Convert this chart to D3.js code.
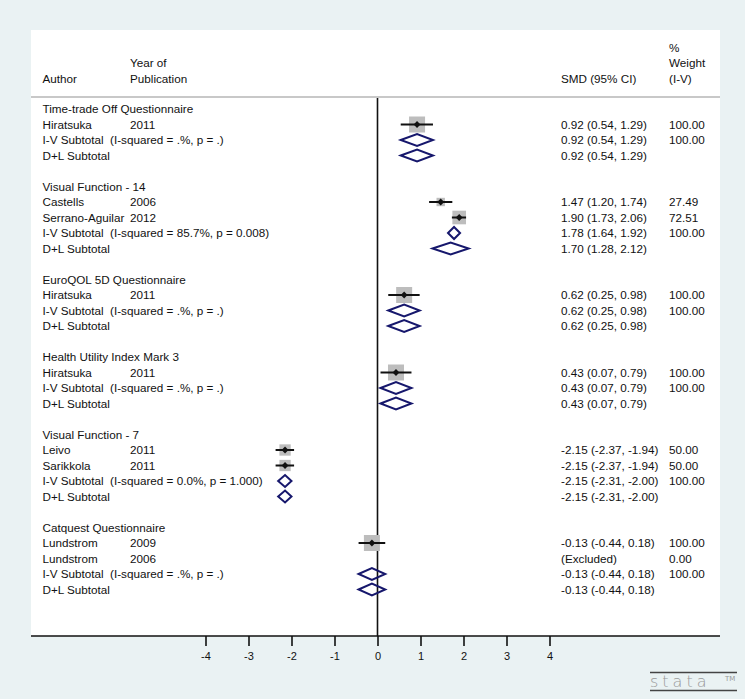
<!DOCTYPE html>
<html>
<head>
<meta charset="utf-8">
<script src="https://cdn.jsdelivr.net/npm/d3@7"></script>
<style>
  body { margin: 0; background: #eaf2f3; }
  svg text { font-family: "Liberation Sans", Arial, sans-serif; fill: #111; }
</style>
</head>
<body>
<div class="svg-wrap"></div>
<script>
const width = 745;
const height = 699;

// rows of the forest plot, top to bottom
const labels = [
  "Time-trade Off Questionnaire", "Hiratsuka", "I-V Subtotal  (I-squared = .%, p = .)", "D+L Subtotal", "",
  "Visual Function - 14", "Castells", "Serrano-Aguilar", "I-V Subtotal  (I-squared = 85.7%, p = 0.008)", "D+L Subtotal", "",
  "EuroQOL 5D Questionnaire", "Hiratsuka", "I-V Subtotal  (I-squared = .%, p = .)", "D+L Subtotal", "",
  "Health Utility Index Mark 3", "Hiratsuka", "I-V Subtotal  (I-squared = .%, p = .)", "D+L Subtotal", "",
  "Visual Function - 7", "Leivo", "Sarikkola", "I-V Subtotal  (I-squared = 0.0%, p = 1.000)", "D+L Subtotal", "",
  "Catquest Questionnaire", "Lundstrom", "Lundstrom", "I-V Subtotal  (I-squared = .%, p = .)", "D+L Subtotal"
];
const years = [
  "", "2011", "", "", "",
  "", "2006", "2012", "", "", "",
  "", "2011", "", "", "",
  "", "2011", "", "", "",
  "", "2011", "2011", "", "", "",
  "", "2009", "2006", "", ""
];
const kinds = [
  "h", "s", "d", "d", "b",
  "h", "s", "s", "d", "d", "b",
  "h", "s", "d", "d", "b",
  "h", "s", "d", "d", "b",
  "h", "s", "s", "d", "d", "b",
  "h", "s", "x", "d", "d"
];
const smd = [
  null, 0.92, 0.92, 0.92, null,
  null, 1.47, 1.90, 1.78, 1.70, null,
  null, 0.62, 0.62, 0.62, null,
  null, 0.43, 0.43, 0.43, null,
  null, -2.15, -2.15, -2.15, -2.15, null,
  null, -0.13, null, -0.13, -0.13
];
const ciLow = [
  null, 0.54, 0.54, 0.54, null,
  null, 1.20, 1.73, 1.64, 1.28, null,
  null, 0.25, 0.25, 0.25, null,
  null, 0.07, 0.07, 0.07, null,
  null, -2.37, -2.37, -2.31, -2.31, null,
  null, -0.44, null, -0.44, -0.44
];
const ciHigh = [
  null, 1.29, 1.29, 1.29, null,
  null, 1.74, 2.06, 1.92, 2.12, null,
  null, 0.98, 0.98, 0.98, null,
  null, 0.79, 0.79, 0.79, null,
  null, -1.94, -1.94, -2.00, -2.00, null,
  null, 0.18, null, 0.18, 0.18
];
const weights = [
  "", "100.00", "100.00", "", "",
  "", "27.49", "72.51", "100.00", "", "",
  "", "100.00", "100.00", "", "",
  "", "100.00", "100.00", "", "",
  "", "50.00", "50.00", "100.00", "", "",
  "", "100.00", "0.00", "100.00", ""
];
const xTicks = [-4, -3, -2, -1, 0, 1, 2, 3, 4];

const fmt = v => v.toFixed(2);
const rows = labels.map((label, i) => ({
  i, label, year: years[i], kind: kinds[i],
  est: smd[i], lo: ciLow[i], hi: ciHigh[i], weight: weights[i]
}));

let svg = d3.select(".svg-wrap")
  .append("svg")
  .attr("width", width)
  .attr("height", height)
  .style("display", "block")
  .style("background-color", "#eaf2f3");

// plot panel
const panel = { left: 31, right: 720, top: 30, bottom: 636 };
svg.append("rect")
  .attr("x", panel.left).attr("y", panel.top)
  .attr("width", panel.right - panel.left)
  .attr("height", panel.bottom - panel.top)
  .attr("fill", "white");

const scaleX = d3.scaleLinear().domain([-4, 4]).range([205.5, 549.5]);
const scaleY = d3.scaleLinear().domain([0, rows.length - 1]).range([109, 589.5]);

const fs = "11.7px";
const col = { author: 42.5, year: 130, smd: 561, weight: 669 };

// header
const header = [
  { x: col.author, y: 79, t: "Author" },
  { x: col.year, y: 63, t: "Year of" },
  { x: col.year, y: 79, t: "Publication" },
  { x: col.smd, y: 79, t: "SMD (95% CI)" },
  { x: col.weight, y: 47.5, t: "%" },
  { x: col.weight, y: 63, t: "Weight" },
  { x: col.weight, y: 79, t: "(I-V)" }
];
svg.append("g").selectAll("text")
  .data(header)
  .enter().append("text")
  .attr("x", d => d.x).attr("y", d => d.y)
  .attr("dy", "0.35em")
  .style("font-size", fs)
  .text(d => d.t);

svg.append("line")
  .attr("x1", panel.left).attr("x2", panel.right)
  .attr("y1", 97).attr("y2", 97)
  .attr("stroke", "#c8c8c8").attr("stroke-width", 2);

// zero line
svg.append("line")
  .attr("x1", scaleX(0)).attr("x2", scaleX(0))
  .attr("y1", 98).attr("y2", panel.bottom)
  .attr("stroke", "#111").attr("stroke-width", 1.6);

// row text
let textG = svg.append("g").style("font-size", fs);
textG.selectAll(".lab")
  .data(rows)
  .enter().append("text")
  .attr("x", col.author)
  .attr("y", d => scaleY(d.i))
  .attr("dy", "0.35em")
  .attr("xml:space", "preserve")
  .style("white-space", "pre")
  .text(d => d.label);

textG.selectAll(".yr")
  .data(rows.filter(d => d.year))
  .enter().append("text")
  .attr("x", col.year)
  .attr("y", d => scaleY(d.i))
  .attr("dy", "0.35em")
  .text(d => d.year);

textG.selectAll(".smd")
  .data(rows.filter(d => d.kind == "s" || d.kind == "d" || d.kind == "x"))
  .enter().append("text")
  .attr("x", col.smd)
  .attr("y", d => scaleY(d.i))
  .attr("dy", "0.35em")
  .text(d => d.kind == "x" ? "(Excluded)" : fmt(d.est) + " (" + fmt(d.lo) + ", " + fmt(d.hi) + ")");

textG.selectAll(".wt")
  .data(rows.filter(d => d.weight))
  .enter().append("text")
  .attr("x", col.weight)
  .attr("y", d => scaleY(d.i))
  .attr("dy", "0.35em")
  .text(d => d.weight);

// study markers
const studies = rows.filter(d => d.kind == "s");
svg.append("g").selectAll("rect")
  .data(studies)
  .enter().append("rect")
  .attr("x", d => scaleX(d.est) - 8 * Math.sqrt(+d.weight / 100))
  .attr("y", d => scaleY(d.i) - 8 * Math.sqrt(+d.weight / 100))
  .attr("width", d => 16 * Math.sqrt(+d.weight / 100))
  .attr("height", d => 16 * Math.sqrt(+d.weight / 100))
  .attr("fill", "#bdbdbd");

svg.append("g").selectAll("line")
  .data(studies)
  .enter().append("line")
  .attr("x1", d => scaleX(d.lo)).attr("x2", d => scaleX(d.hi))
  .attr("y1", d => scaleY(d.i)).attr("y2", d => scaleY(d.i))
  .attr("stroke", "#111").attr("stroke-width", 2);

svg.append("g").selectAll("path")
  .data(studies)
  .enter().append("path")
  .attr("d", d => {
    let x = scaleX(d.est), y = scaleY(d.i), r = 3.4;
    return `M${x - r},${y}L${x},${y - r}L${x + r},${y}L${x},${y + r}Z`;
  })
  .attr("fill", "#111");

// pooled diamonds
svg.append("g").selectAll("path")
  .data(rows.filter(d => d.kind == "d"))
  .enter().append("path")
  .attr("d", d => {
    let y = scaleY(d.i), h = 6;
    return `M${scaleX(d.lo)},${y}L${scaleX(d.est)},${y - h}L${scaleX(d.hi)},${y}L${scaleX(d.est)},${y + h}Z`;
  })
  .attr("fill", "none")
  .attr("stroke", "#16176c")
  .attr("stroke-width", 2);

// x axis
svg.append("line")
  .attr("x1", panel.left).attr("x2", panel.right)
  .attr("y1", panel.bottom).attr("y2", panel.bottom)
  .attr("stroke", "#111").attr("stroke-width", 1.6);

let xAxis = d3.axisBottom(scaleX)
  .tickValues(xTicks)
  .tickSize(10)
  .tickPadding(6)
  .tickFormat(d => d < 0 ? "-" + Math.abs(d) : String(d));
let axisG = svg.append("g")
  .attr("id", "x-axis")
  .attr("transform", "translate(0," + panel.bottom + ")")
  .call(xAxis);
axisG.select(".domain").remove();
axisG.selectAll(".tick line").attr("stroke", "#111").attr("stroke-width", 1.6);
axisG.selectAll(".tick text")
  .style("font-family", "Liberation Sans, Arial, sans-serif")
  .style("font-size", "11px")
  .attr("fill", "#111");

// stata logo
let logo = svg.append("g").attr("fill", "none");
logo.append("line").attr("x1", 650).attr("x2", 737).attr("y1", 672.5).attr("y2", 672.5)
  .attr("stroke", "#444").attr("stroke-width", 1.5);
logo.append("line").attr("x1", 650).attr("x2", 737).attr("y1", 690.5).attr("y2", 690.5)
  .attr("stroke", "#444").attr("stroke-width", 1.5);
logo.append("text")
  .attr("x", 650).attr("y", 687)
  .style("font-family", "DejaVu Sans, sans-serif")
  .style("font-size", "16px")
  .style("font-weight", "200")
  .style("letter-spacing", "4px")
  .style("fill", "#999")
  .text("stata");
logo.append("text")
  .attr("x", 725).attr("y", 681)
  .style("font-family", "DejaVu Sans, sans-serif")
  .style("font-size", "7px")
  .style("fill", "#999")
  .text("TM");
</script>
</body>
</html>
